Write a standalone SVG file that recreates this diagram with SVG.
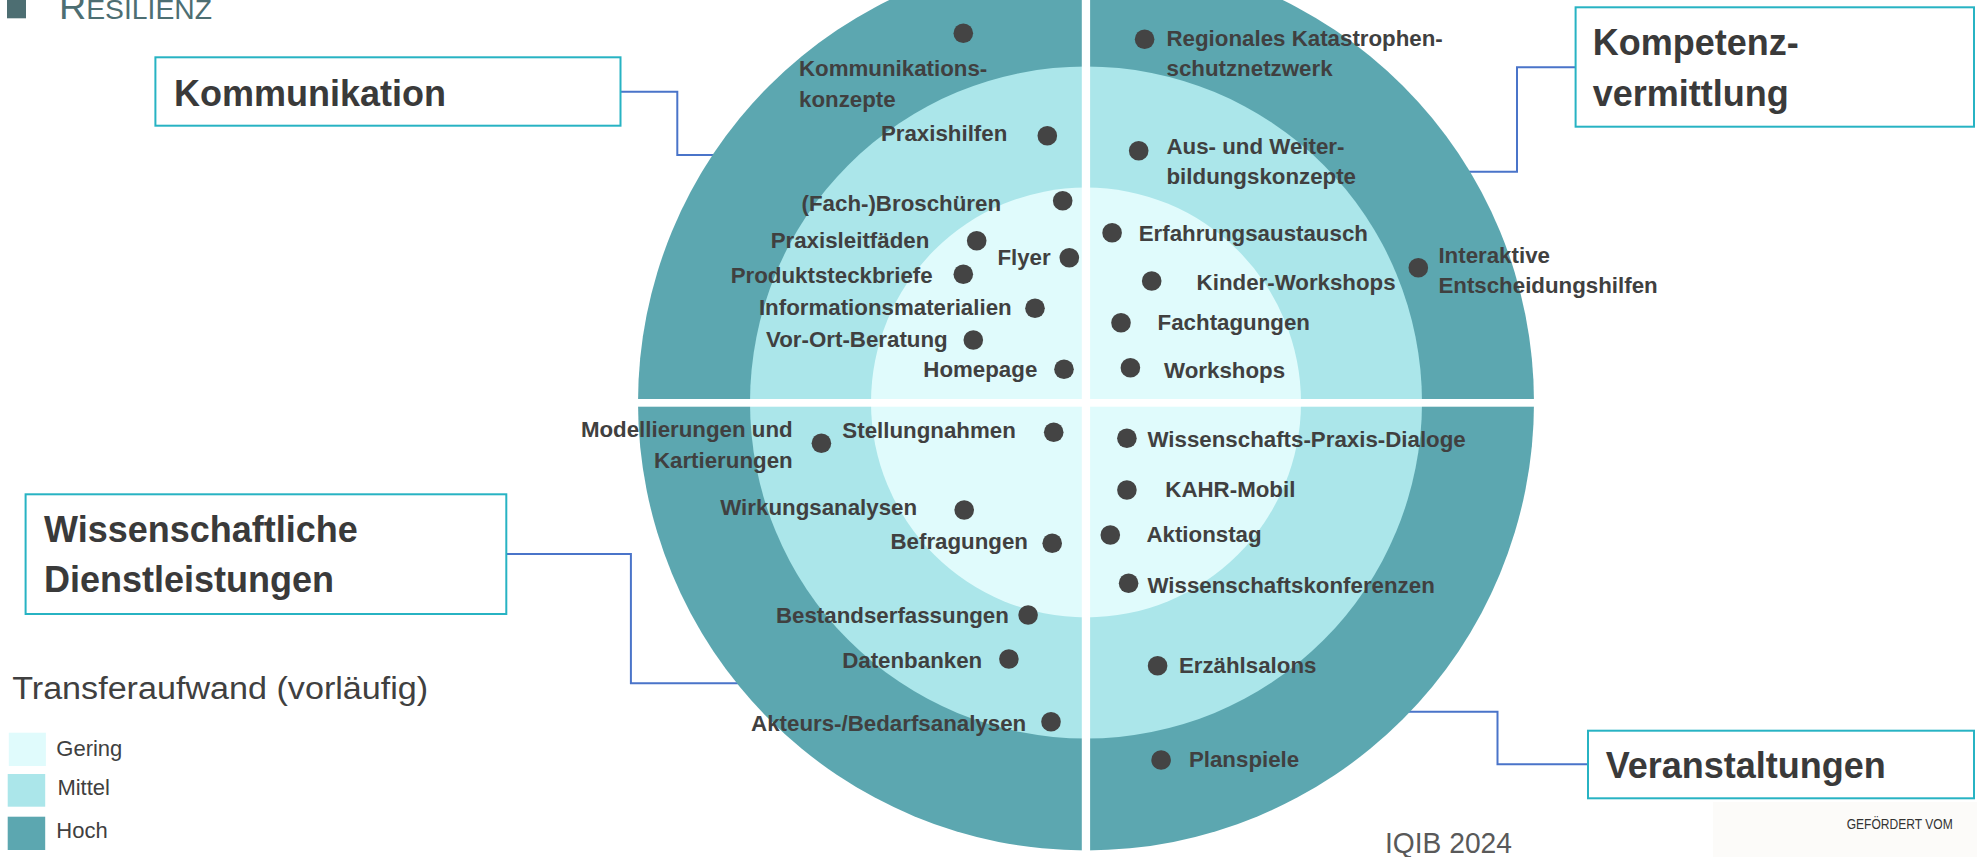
<svg xmlns="http://www.w3.org/2000/svg" width="1977" height="857" viewBox="0 0 1977 857">
<style>
.hoch{fill:#5CA7B0}
.mittel{fill:#ABE6EA}
.gering{fill:#E0FBFC}
.dot{fill:#444444}
.it{font-family:"Liberation Sans",Arial,sans-serif;font-weight:bold;font-size:22.3px;fill:#404040}
.end{text-anchor:end}
.box{fill:#FFFFFF;stroke:#27B3C3;stroke-width:2}
.bt{font-family:"Liberation Sans",Arial,sans-serif;font-weight:bold;font-size:36px;fill:#3A3A3A}
.con{fill:none;stroke:#4A74C9;stroke-width:2}
.lg{font-family:"Liberation Sans",Arial,sans-serif;font-size:22px;fill:#404040}
</style>
<rect x="0" y="0" width="1977" height="857" fill="#FFFFFF"/>

<g id="header">
<rect x="7" y="-1" width="19" height="19.3" fill="#4D6E72"/>
<text x="59" y="19" font-family="Liberation Sans,Arial,sans-serif" fill="#4D6E72" textLength="153" lengthAdjust="spacingAndGlyphs"><tspan font-size="36">R</tspan><tspan font-size="27">ESILIENZ</tspan></text>
</g>

<rect x="1713" y="802" width="264" height="55" fill="#FCFBF9"/>

<g id="connectors">
<path class="con" d="M620.5,91.7 H677.3 V155 H716"/>
<path class="con" d="M1575.6,67.3 H1517 V171.7 H1466"/>
<path class="con" d="M506.3,554 H630.9 V683.3 H740"/>
<path class="con" d="M1588,764.3 H1497.5 V711.7 H1407"/>
</g>

<g id="rings">
<circle class="hoch" cx="1086" cy="402.5" r="448"/>
<circle class="mittel" cx="1086" cy="402.5" r="336"/>
<circle class="gering" cx="1086" cy="402.5" r="215"/>
<rect x="1081.8" y="0" width="8.3" height="857" fill="#FFFFFF"/>
<rect x="630" y="399" width="912" height="7.7" fill="#FFFFFF"/>
</g>

<g id="box-kommunikation">
<rect class="box" x="155.4" y="57.3" width="465.1" height="68.4"/>
<text class="bt" x="174" y="106">Kommunikation</text>
</g>
<g id="box-kompetenzvermittlung">
<rect class="box" x="1575.6" y="7.3" width="398.4" height="119.4"/>
<text class="bt" x="1592.7" y="55">Kompetenz-</text>
<text class="bt" x="1592.7" y="106">vermittlung</text>
</g>
<g id="box-wissenschaftliche-dienstleistungen">
<rect class="box" x="25.6" y="494.3" width="480.7" height="119.7"/>
<text class="bt" x="44" y="541.7">Wissenschaftliche</text>
<text class="bt" x="44" y="591.7">Dienstleistungen</text>
</g>
<g id="box-veranstaltungen">
<rect class="box" x="1588" y="730.7" width="386" height="67.6"/>
<text class="bt" x="1605.7" y="778.3">Veranstaltungen</text>
</g>

<g id="n-kommunikationskonzepte"><circle class="dot" cx="963.3" cy="33.3" r="9.8"/><text class="it" x="799" y="76">Kommunikations-</text><text class="it" x="799" y="106.7">konzepte</text></g>
<g id="n-praxishilfen"><circle class="dot" cx="1047.3" cy="135.7" r="9.8"/><text class="it end" x="1007.3" y="140.7">Praxishilfen</text></g>
<g id="n-broschueren"><circle class="dot" cx="1062.7" cy="200.7" r="9.8"/><text class="it end" x="1001" y="210.7">(Fach-)Broschüren</text></g>
<g id="n-praxisleitfaeden"><circle class="dot" cx="976.7" cy="240.7" r="9.8"/><text class="it end" x="929.3" y="248.3">Praxisleitfäden</text></g>
<g id="n-flyer"><circle class="dot" cx="1069.3" cy="257.7" r="9.8"/><text class="it end" x="1050.7" y="265">Flyer</text></g>
<g id="n-produktsteckbriefe"><circle class="dot" cx="963.3" cy="274.3" r="9.8"/><text class="it end" x="932.7" y="283.3">Produktsteckbriefe</text></g>
<g id="n-informationsmaterialien"><circle class="dot" cx="1035" cy="308.3" r="9.8"/><text class="it end" x="1011.7" y="315">Informationsmaterialien</text></g>
<g id="n-vor-ort-beratung"><circle class="dot" cx="973.3" cy="340" r="9.8"/><text class="it end" x="947.7" y="346.7">Vor-Ort-Beratung</text></g>
<g id="n-homepage"><circle class="dot" cx="1064" cy="369.3" r="9.8"/><text class="it end" x="1037.3" y="376.7">Homepage</text></g>

<g id="n-katastrophenschutznetzwerk"><circle class="dot" cx="1144.6" cy="39.3" r="9.8"/><text class="it" x="1166.5" y="45.7">Regionales Katastrophen-</text><text class="it" x="1166.5" y="76">schutznetzwerk</text></g>
<g id="n-weiterbildungskonzepte"><circle class="dot" cx="1138.7" cy="150.7" r="9.8"/><text class="it" x="1166.5" y="154">Aus- und Weiter-</text><text class="it" x="1166.5" y="184.3">bildungskonzepte</text></g>
<g id="n-erfahrungsaustausch"><circle class="dot" cx="1112.1" cy="232.7" r="9.8"/><text class="it" x="1138.7" y="240.7">Erfahrungsaustausch</text></g>
<g id="n-entscheidungshilfen"><circle class="dot" cx="1418.3" cy="267.7" r="9.8"/><text class="it" x="1438.4" y="263.3">Interaktive</text><text class="it" x="1438.4" y="293.3">Entscheidungshilfen</text></g>
<g id="n-kinder-workshops"><circle class="dot" cx="1151.7" cy="281" r="9.8"/><text class="it" x="1196.6" y="290">Kinder-Workshops</text></g>
<g id="n-fachtagungen"><circle class="dot" cx="1121" cy="322.7" r="9.8"/><text class="it" x="1157.6" y="330">Fachtagungen</text></g>
<g id="n-workshops"><circle class="dot" cx="1130.4" cy="367.7" r="9.8"/><text class="it" x="1164.1" y="377.7">Workshops</text></g>

<g id="n-modellierungen"><circle class="dot" cx="821.4" cy="443.3" r="9.8"/><text class="it end" x="792.7" y="436.7">Modellierungen und</text><text class="it end" x="792.7" y="468.3">Kartierungen</text></g>
<g id="n-stellungnahmen"><circle class="dot" cx="1053.7" cy="432.3" r="9.8"/><text class="it end" x="1015.8" y="438.3">Stellungnahmen</text></g>
<g id="n-wirkungsanalysen"><circle class="dot" cx="964.2" cy="510" r="9.8"/><text class="it end" x="917.1" y="515">Wirkungsanalysen</text></g>
<g id="n-befragungen"><circle class="dot" cx="1052.2" cy="543.3" r="9.8"/><text class="it end" x="1028" y="549">Befragungen</text></g>
<g id="n-bestandserfassungen"><circle class="dot" cx="1028.1" cy="615" r="9.8"/><text class="it end" x="1008.9" y="622.7">Bestandserfassungen</text></g>
<g id="n-datenbanken"><circle class="dot" cx="1008.9" cy="659" r="9.8"/><text class="it end" x="982.2" y="668.3">Datenbanken</text></g>
<g id="n-bedarfsanalysen"><circle class="dot" cx="1051" cy="721.7" r="9.8"/><text class="it end" x="1026.2" y="731">Akteurs-/Bedarfsanalysen</text></g>

<g id="n-wpd"><circle class="dot" cx="1126.9" cy="438.3" r="9.8"/><text class="it" x="1147.5" y="446.7">Wissenschafts-Praxis-Dialoge</text></g>
<g id="n-kahr-mobil"><circle class="dot" cx="1126.9" cy="490" r="9.8"/><text class="it" x="1165.3" y="497.3">KAHR-Mobil</text></g>
<g id="n-aktionstag"><circle class="dot" cx="1110.3" cy="535" r="9.8"/><text class="it" x="1146.4" y="541.7">Aktionstag</text></g>
<g id="n-wissenschaftskonferenzen"><circle class="dot" cx="1128.6" cy="583.3" r="9.8"/><text class="it" x="1147.5" y="592.7">Wissenschaftskonferenzen</text></g>
<g id="n-erzaehlsalons"><circle class="dot" cx="1157.6" cy="665.7" r="9.8"/><text class="it" x="1178.9" y="673.3">Erzählsalons</text></g>
<g id="n-planspiele"><circle class="dot" cx="1161.1" cy="760" r="9.8"/><text class="it" x="1188.9" y="766.7">Planspiele</text></g>

<g id="legend">
<text x="12.2" y="699.3" font-family="Liberation Sans,Arial,sans-serif" font-size="31" fill="#404040" textLength="416" lengthAdjust="spacingAndGlyphs">Transferaufwand (vorläufig)</text>
<rect class="gering" x="8.8" y="732.7" width="37.1" height="33.3"/>
<text class="lg" x="56.3" y="756">Gering</text>
<rect class="mittel" x="7.7" y="774" width="37.5" height="32.7"/>
<text class="lg" x="57.4" y="795">Mittel</text>
<rect class="hoch" x="7.7" y="816.7" width="37.5" height="33.3"/>
<text class="lg" x="56.3" y="838.3">Hoch</text>
</g>

<text x="1385" y="853" font-family="Liberation Sans,Arial,sans-serif" font-size="29" fill="#595959" textLength="127" lengthAdjust="spacingAndGlyphs">IQIB 2024</text>
<text x="1846.7" y="829" font-family="Liberation Sans,Arial,sans-serif" font-size="15" fill="#333333" textLength="106" lengthAdjust="spacingAndGlyphs">GEFÖRDERT VOM</text>
</svg>
